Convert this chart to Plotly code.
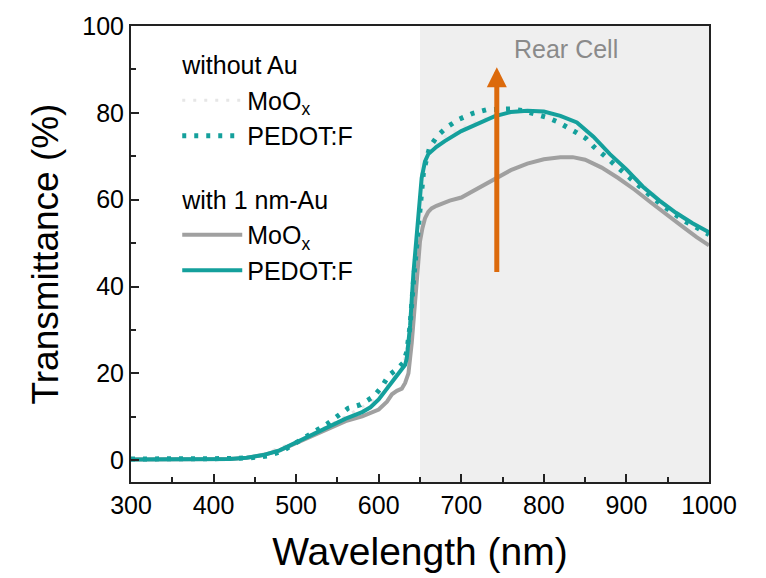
import plotly.graph_objects as go

# ---- data ----
wl_pedot_au = [300, 350, 400, 420, 440, 460, 480, 500, 520, 540, 560, 580, 590, 600, 610, 620,
               626, 632, 634, 638, 642, 646, 649, 652, 656, 660, 670, 680, 700, 720, 740, 760,
               780, 800, 820, 840, 860, 880, 900, 920, 940, 960, 980, 1000]
t_pedot_au = [0.2, 0.2, 0.2, 0.3, 0.6, 1.2, 2.3, 4.1, 6.0, 7.9, 9.6, 11.1, 12.2, 14.0, 16.5, 19.0,
              20.2, 22.0, 23.5, 31.0, 43.0, 51.0, 59.0, 65.0, 68.8, 70.5, 72.2, 73.5, 75.8, 77.6, 79.2, 80.2,
              80.5, 80.3, 79.3, 77.8, 74.5, 70.5, 67.0, 63.0, 59.8, 57.0, 54.6, 52.5]

wl_moox_au = [300, 350, 400, 420, 440, 460, 480, 500, 520, 540, 560, 580, 590, 600, 610, 616,
              622, 628, 632, 636, 640, 643, 646, 650, 653, 656, 660, 664, 670, 686, 700, 720,
              740, 760, 780, 800, 820, 835, 850, 870, 890, 910, 930, 950, 970, 985, 1000]
t_moox_au = [0.2, 0.2, 0.2, 0.3, 0.6, 1.2, 2.3, 4.0, 5.8, 7.5, 9.0, 10.1, 10.8, 11.7, 13.5, 15.2,
             16.0, 16.5, 17.8, 20.0, 27.0, 34.0, 43.0, 50.4, 53.5, 55.7, 57.2, 58.0, 58.6, 59.8, 60.5, 62.6,
             64.8, 66.8, 68.3, 69.3, 69.8, 69.8, 69.2, 67.4, 65.0, 62.3, 59.3, 56.3, 53.5, 51.4, 49.5]

wl_pedot_noau = [300, 350, 400, 425, 445, 466, 483, 497, 511, 524, 537, 550, 563, 578, 594, 604,
                 612, 624, 630, 634, 638, 642, 646, 650, 654, 658, 662, 672, 684, 698, 714, 730,
                 760, 775, 791, 803, 817, 829, 840, 851, 861, 873, 885, 897, 909, 921, 932, 945,
                 958, 971, 985, 1000]
t_pedot_noau = [0.3, 0.3, 0.3, 0.4, 0.6, 1.0, 2.1, 3.6, 5.1, 6.8, 8.3, 10.3, 12.0, 12.8, 14.7, 17.0,
                19.5, 21.3, 22.5, 25.0, 31.0, 41.0, 50.0, 60.0, 66.0, 69.5, 72.2, 74.9, 76.9, 78.6, 79.9, 80.7,
                80.9, 80.5, 79.8, 79.0, 77.9, 76.7, 75.4, 74.1, 72.1, 70.2, 68.2, 66.0, 64.0, 62.2, 60.4, 58.5,
                56.8, 55.0, 53.6, 52.0]

wl_moox_noau = [300, 400, 450, 500, 550, 600, 620, 630, 638, 644, 650, 656, 662, 680, 700, 740,
                780, 820, 860, 900, 950, 1000]
t_moox_noau = [0.3, 0.3, 0.8, 4.2, 9.0, 14.5, 19.5, 21.5, 30.0, 45.0, 60.0, 68.0, 71.5, 74.5, 76.5, 79.5,
               80.5, 79.0, 74.0, 67.0, 58.5, 52.0]

rear_cell_range = [650, 1000]
arrow_x = 743
arrow_from, arrow_to = 43, 90.5

x_ticks = [300, 400, 500, 600, 700, 800, 900, 1000]
y_ticks = [0, 20, 40, 60, 80, 100]

TEAL = "#14a09c"
GRAY = "#a0a0a0"
FONT = "Liberation Sans, Arial, sans-serif"

fig = go.Figure()

fig.add_trace(go.Scatter(
    x=wl_moox_noau, y=t_moox_noau, mode="lines", name="MoO<sub>x</sub>",
    line=dict(color="#e6e6e6", width=3, dash="3px,8px"),
    legendgroup="noau", legendgrouptitle=dict(text="without Au", font=dict(size=25, color="black")),
    legendrank=1))
fig.add_trace(go.Scatter(
    x=wl_moox_au, y=t_moox_au, mode="lines", name="MoO<sub>x</sub>",
    line=dict(color=GRAY, width=4),
    legendgroup="au", legendgrouptitle=dict(text="with 1 nm-Au", font=dict(size=25, color="black")),
    legendrank=3))
fig.add_trace(go.Scatter(
    x=wl_pedot_au, y=t_pedot_au, mode="lines", name="PEDOT:F",
    line=dict(color=TEAL, width=4),
    legendgroup="au", legendrank=4))
fig.add_trace(go.Scatter(
    x=wl_pedot_noau, y=t_pedot_noau, mode="lines", name="PEDOT:F",
    line=dict(color=TEAL, width=5, dash="4px,8px"),
    legendgroup="noau", legendrank=2))

fig.add_shape(type="rect", xref="x", yref="paper", x0=rear_cell_range[0], x1=rear_cell_range[1],
              y0=0, y1=1, fillcolor="#efefef", line=dict(width=0), layer="below")

fig.add_annotation(x=827, y=94.8, xref="x", yref="y", text="Rear Cell", showarrow=False,
                   font=dict(size=25, color="#8a8a8a", family=FONT))

fig.add_annotation(x=arrow_x, y=arrow_to, ax=arrow_x, ay=arrow_from, xref="x", yref="y",
                   axref="x", ayref="y", text="", showarrow=True, arrowhead=2, arrowsize=0.8,
                   arrowwidth=5, arrowcolor="#dc6a0c")

axis_common = dict(showline=True, linecolor="#222222", linewidth=2, mirror=True,
                   ticks="inside", tickcolor="#222222", tickwidth=1.5, ticklen=8,
                   showgrid=False, zeroline=False,
                   tickfont=dict(size=25, color="black", family=FONT))

fig.update_xaxes(range=[300, 1000], tickvals=x_ticks,
                 minor=dict(ticks="inside", ticklen=5, tickwidth=1.5, tickcolor="#222222", dtick=50, tick0=300),
                 title=dict(text="Wavelength (nm)", font=dict(size=39, color="black", family=FONT), standoff=20),
                 **axis_common)
fig.update_yaxes(range=[-5, 100], tickvals=y_ticks,
                 minor=dict(ticks="inside", ticklen=5, tickwidth=1.5, tickcolor="#222222", dtick=10, tick0=0),
                 title=dict(text="Transmittance (%)", font=dict(size=37, color="black", family=FONT), standoff=12),
                 **axis_common)

fig.update_layout(
    width=766, height=578,
    margin=dict(l=131, r=57, t=17, b=96),
    plot_bgcolor="white", paper_bgcolor="white",
    font=dict(family=FONT, color="black"),
    showlegend=True,
    legend=dict(x=0.08, y=0.965, xanchor="left", yanchor="top", bgcolor="rgba(0,0,0,0)",
                font=dict(size=25, color="black", family=FONT), itemwidth=60,
                tracegroupgap=28, traceorder="grouped", itemclick=False),
)

fig.write_html("out.html")
